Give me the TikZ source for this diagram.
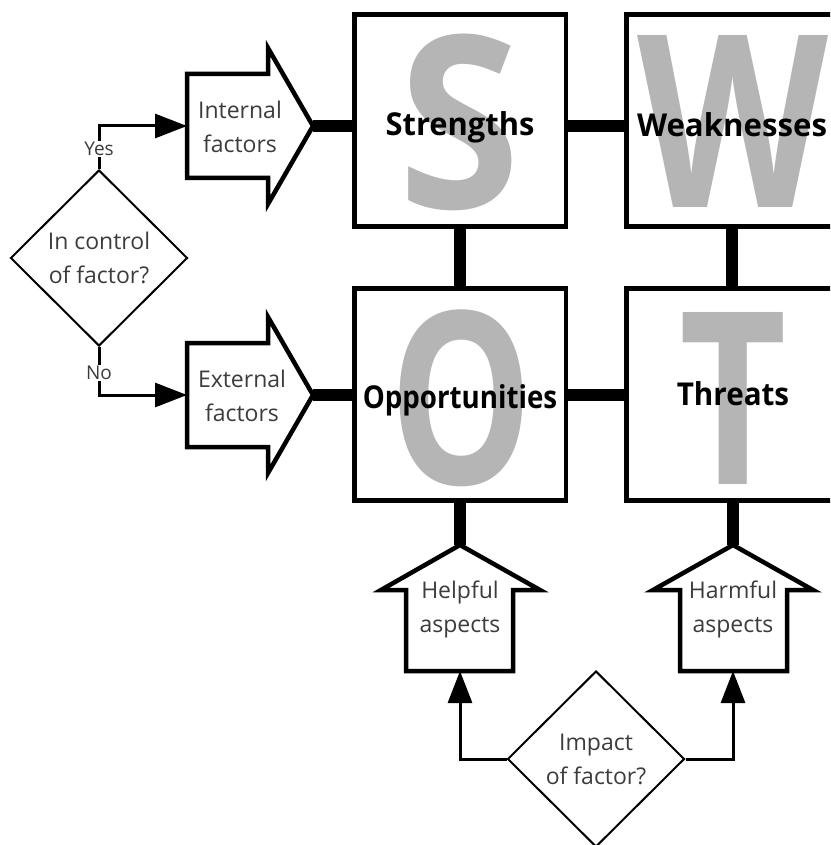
\documentclass[tikz,border=0pt]{standalone}
\usepackage{fontspec}
\setmainfont{Open Sans}
\usetikzlibrary{shapes.geometric,arrows.meta}
\definecolor{lettergray}{RGB}{181,181,181}
\definecolor{handtext}{RGB}{60,60,60}
\begin{document}
\begin{tikzpicture}[x=1pt,y=-1pt,
  swotbox/.style={draw, line width=4.5pt, minimum width=211.5pt, minimum height=212pt, inner sep=0pt},
  bigletter/.style={font=\fontsize{241}{241}\bfseries\selectfont, text=lettergray, inner sep=0pt, anchor=base},
  boxlabel/.style={font=\fontsize{31.5}{32}\bfseries\selectfont, inner sep=0pt, anchor=base},
  hand/.style={font=\fontsize{23}{34}\selectfont, text=handtext, align=center, inner sep=0pt},
  ynlabel/.style={font=\fontsize{19}{20}\selectfont, text=handtext, fill=white, inner sep=1pt},
  bigarrow/.style={draw, line width=4.5pt, miter limit=10, fill=white},
  decision/.style={draw, diamond, line width=2pt, minimum width=177pt, minimum height=176pt, inner sep=0pt, font=\fontsize{23}{34}\selectfont, text=handtext, align=center},
  link/.style={line width=12pt},
  flow/.style={line width=3pt, -{Triangle[length=32pt,width=24pt]}}
]
\useasboundingbox (0,0) rectangle (830,845);
\clip (0,0) rectangle (830,845);

% big letters
\node[bigletter] (Sl) at (460,208) {\scalebox{0.92}[1]{S}};
\node[bigletter] (Wl) at (733,207) {\scalebox{0.82}[1]{W}};
\node[bigletter] (Ol) at (461,484) {\scalebox{0.75}[1]{O}};
\node[bigletter] (Tl) at (733,484) {\scalebox{0.77}[1]{T}};

% boxes
\node[swotbox] (S) at (460,120.5) {};
\node[swotbox] (W) at (732,120.5) {};
\node[swotbox] (O) at (460,394.5) {};
\node[swotbox] (T) at (732,394.5) {};

\node[boxlabel] (Slab) at (460,136) {\scalebox{0.98}[1]{Strengths}};
\node[boxlabel] (Wlab) at (732,137) {\scalebox{0.99}[1]{Weaknesses}};
\node[boxlabel] (Olab) at (460,408) {\scalebox{0.88}[1]{Opportunities}};
\node[boxlabel] (Tlab) at (733,405) {\scalebox{0.94}[1]{Threats}};

% links between boxes
\draw[link] ([yshift=-5.5pt]S.east) -- ([yshift=-5.5pt]W.west);
\draw[link] (O.east) -- (T.west);
\draw[link] (S.south) -- (O.north);
\draw[link] (W.south) -- (T.north);

% left big arrows
\draw[bigarrow] (187,74) -- (268,74) -- (268,48) -- (313,126) -- (268,204) -- (268,178) -- (187,178) -- cycle;
\coordinate (intTip) at (313,126);
\node[hand] (int) at (240,127) {Internal\\factors};
\draw[bigarrow] (187,343) -- (268,343) -- (268,317) -- (313,395) -- (268,473) -- (268,447) -- (187,447) -- cycle;
\coordinate (extTip) at (313,395);
\node[hand] (ext) at (242,396) {External\\factors};
\draw[link] (intTip) -- (S.west |- intTip);
\draw[link] (extTip) -- (O.west |- extTip);

% bottom big arrows
\draw[bigarrow] (460,545) -- (540,590) -- (513,590) -- (513,671) -- (406,671) -- (406,590) -- (381,590) -- cycle;
\coordinate (helpTip) at (460,545);
\node[hand] (help) at (460,609) {Helpful\\aspects};
\draw[bigarrow] (733,545) -- (813,590) -- (787,590) -- (787,671) -- (680,671) -- (680,590) -- (653,590) -- cycle;
\coordinate (harmTip) at (733,545);
\node[hand] (harm) at (733,609) {Harmful\\aspects};
\draw[link] (O.south -| helpTip) -- (helpTip);
\draw[link] (T.south -| harmTip) -- (harmTip);

% decision: in control
\node[decision] (ctrl) at (99,258) {In control\\of factor?};
\coordinate (intIn) at (187,126);
\coordinate (extIn) at (187,395);
\draw[flow] (ctrl.north) -- (ctrl.north |- intIn) -- (intIn);
\draw[flow] (ctrl.south) -- (ctrl.south |- extIn) -- (extIn);
\node[ynlabel] (yes) at (99,149) {Yes};
\node[ynlabel] (no) at (99,373) {No};

% decision: impact
\node[decision] (imp) at (596,759) {Impact\\of factor?};
\coordinate (helpIn) at (460,671);
\coordinate (harmIn) at (733,671);
\draw[flow] (imp.west) -- (imp.west -| helpIn) -- (helpIn);
\draw[flow] (imp.east) -- (imp.east -| harmIn) -- (harmIn);
\end{tikzpicture}
\end{document}
